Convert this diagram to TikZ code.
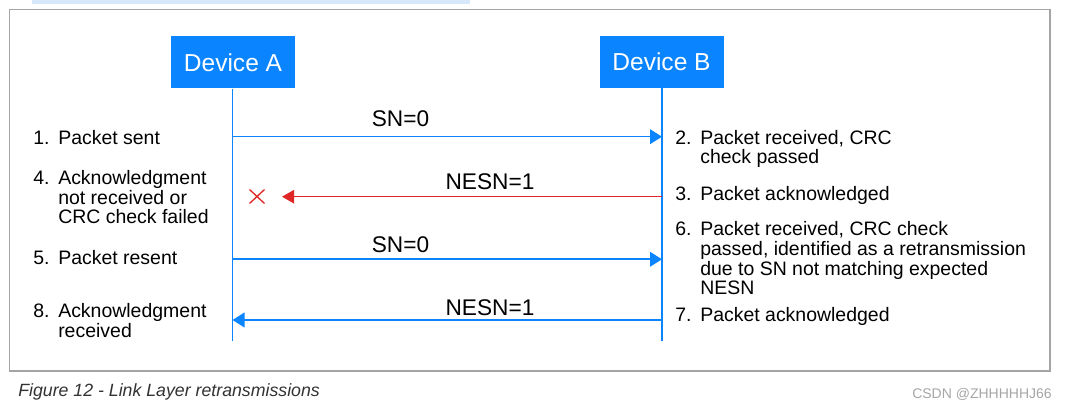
\documentclass[tikz,border=0pt]{standalone}
\usepackage{fontspec}
\setmainfont{Liberation Sans}
\usetikzlibrary{arrows.meta}
\definecolor{bleblue}{RGB}{10,132,255}
\definecolor{errred}{RGB}{222,40,40}
\definecolor{framegray}{RGB}{165,165,165}
\definecolor{topbar}{RGB}{214,232,250}
\definecolor{captext}{RGB}{50,50,50}
\definecolor{wmgray}{RGB}{165,165,165}
\begin{document}
\begin{tikzpicture}[x=0.75pt,y=-0.75pt,
  device/.style={fill=bleblue, text=white, minimum width=93pt, minimum height=39pt, inner sep=0pt, font=\fontsize{18.4}{18.4}\selectfont},
  lifeline/.style={draw=bleblue, line width=1.1pt},
  msg/.style={draw=bleblue, line width=1.2pt, -{Triangle[length=9pt,width=11pt]}},
  lostmsg/.style={draw=errred, line width=1.2pt, -{Triangle[length=9pt,width=10pt]}},
  lbl/.style={font=\fontsize{17}{17}\selectfont, anchor=base, inner sep=0pt},
  body/.style={font=\fontsize{14.6}{14.6}\selectfont, anchor=base west, inner sep=0pt},
  caption/.style={font=\fontsize{13.3}{13.3}\selectfont\itshape, text=captext, anchor=base west, inner sep=0pt},
  watermark/.style={font=\fontsize{10.5}{10.5}\selectfont, text=wmgray, anchor=base east, inner sep=0pt}
]
\useasboundingbox (0,0) rectangle (1067,409);
% top bar and frame
\fill[topbar] (32,0) rectangle (470,4);
\draw[framegray, line width=1.1pt] (9.5,9.5) rectangle (1050,371);

% devices
\node[device] (devA) at (233,62.5) {Device A};
\node[device] (devB) at (661.5,62) {Device B};
\coordinate (endA) at (232.5,341.5);
\coordinate (endB) at (662,341);
\draw[lifeline] (devA.south -| endA) -- (endA);
\draw[lifeline] (devB.south -| endB) -- (endB);

% message points
\coordinate (a1) at (232.5,136.7);
\coordinate (b1) at (662,136.7);
\coordinate (b3) at (662,196.7);
\coordinate (x3) at (282,196.7);
\coordinate (a5) at (232.5,259.3);
\coordinate (b5) at (662,259.3);
\coordinate (b7) at (662,320);
\coordinate (a7) at (232.5,320);
\coordinate (lost) at (257,196.5);

\draw[msg] (a1) -- (b1);
\draw[lostmsg] (b3) -- (x3);
\draw[msg] (a5) -- (b5);
\draw[msg] (b7) -- (a7);
\draw[errred, line width=1pt] ([shift={(-7.5,-7)}]lost) -- ([shift={(7.5,7)}]lost)
                               ([shift={(-7.5,7)}]lost) -- ([shift={(7.5,-7)}]lost);

% message labels
\node[lbl] (m1) at (400.5,127) {SN=0};
\node[lbl] (m3) at (490,190) {NESN=1};
\node[lbl] (m5) at (400.5,253) {SN=0};
\node[lbl] (m7) at (490,316) {NESN=1};

% left annotations
\node[body] (n1) at (33,144.3) {1.};
\node[body] (t1) at (58,144.3) {Packet sent};
\node[body] (n4) at (33,185) {4.};
\node[body] (t4a) at (58,185) {Acknowledgment};
\node[body] (t4b) at (58,204.3) {not received or};
\node[body] (t4c) at (58,223.5) {CRC check failed};
\node[body] (n5) at (33,264.3) {5.};
\node[body] (t5) at (58,264.3) {Packet resent};
\node[body] (n8) at (33,317.7) {8.};
\node[body] (t8a) at (58,317.7) {Acknowledgment};
\node[body] (t8b) at (58,337.3) {received};

% right annotations
\node[body] (n2) at (675,144.3) {2.};
\node[body] (t2a) at (700,144.3) {Packet received, CRC};
\node[body] (t2b) at (700,163.5) {check passed};
\node[body] (n3) at (675,201) {3.};
\node[body] (t3) at (700,201) {Packet acknowledged};
\node[body] (n6) at (675,235.7) {6.};
\node[body] (t6a) at (700,235.7) {Packet received, CRC check};
\node[body] (t6b) at (700,255.5) {passed, identified as a retransmission};
\node[body] (t6c) at (700,275.3) {due to SN not matching expected};
\node[body] (t6d) at (700,294.5) {NESN};
\node[body] (n7) at (675,321.7) {7.};
\node[body] (t7) at (700,321.7) {Packet acknowledged};

% caption and watermark
\node[caption] (cap) at (18,397) {Figure 12 - Link Layer retransmissions};
\node[watermark] (wm) at (1052,398) {CSDN @ZHHHHHJ66};
\end{tikzpicture}
\end{document}
